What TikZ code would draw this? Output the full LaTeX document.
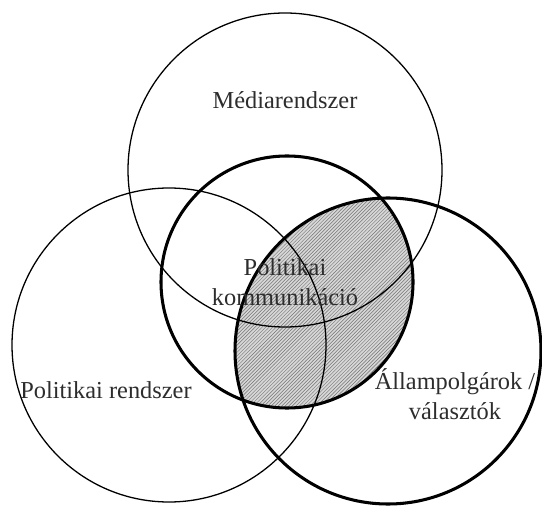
\documentclass[tikz,border=0pt]{standalone}
\usepackage{fontspec}
\setmainfont{Liberation Serif}
\definecolor{labelgray}{RGB}{45,45,45}
\definecolor{hatchgray}{RGB}{215,215,215}
\usetikzlibrary{patterns}

\begin{document}
\begin{tikzpicture}[x=0.03cm, y=0.03cm,
    thinring/.style={line width=1.1pt},
    thickring/.style={line width=2.6pt},
    vennlabel/.style={text=labelgray, align=center, inner sep=0pt,
        font=\fontsize{20.8}{26}\selectfont}]
    \useasboundingbox (0,0) rectangle (542,505);

    % Circle centres
    \coordinate (media) at (285,335);
    \coordinate (polsys) at (169,160);
    \coordinate (polcomm) at (287,223);
    \coordinate (citizens) at (388,154);

    % Shaded overlap
    \begin{scope}
        \clip (polcomm) circle[radius=126];
        \fill[hatchgray] (citizens) circle[radius=153];
        \fill[pattern=north east lines, pattern color=black!55] (citizens) circle[radius=153];
    \end{scope}

    % Circles
    \draw[thinring] (media) circle[radius=157];
    \draw[thinring] (polsys) circle[radius=157];
    \draw[thickring] (polcomm) circle[radius=126];
    \draw[thickring] (citizens) circle[radius=153];

    % Labels
    \node[vennlabel] (medialbl) at (285,405) {Médiarendszer};
    \node[vennlabel] (polsyslbl) at (106,115) {Politikai rendszer};
    \node[vennlabel] (polcommlbl) at (285,223) {Politikai\\kommunikáció};
    \node[vennlabel] (citizenslbl) at (455,111) {Állampolgárok /\\választók};
\end{tikzpicture}
\end{document}
